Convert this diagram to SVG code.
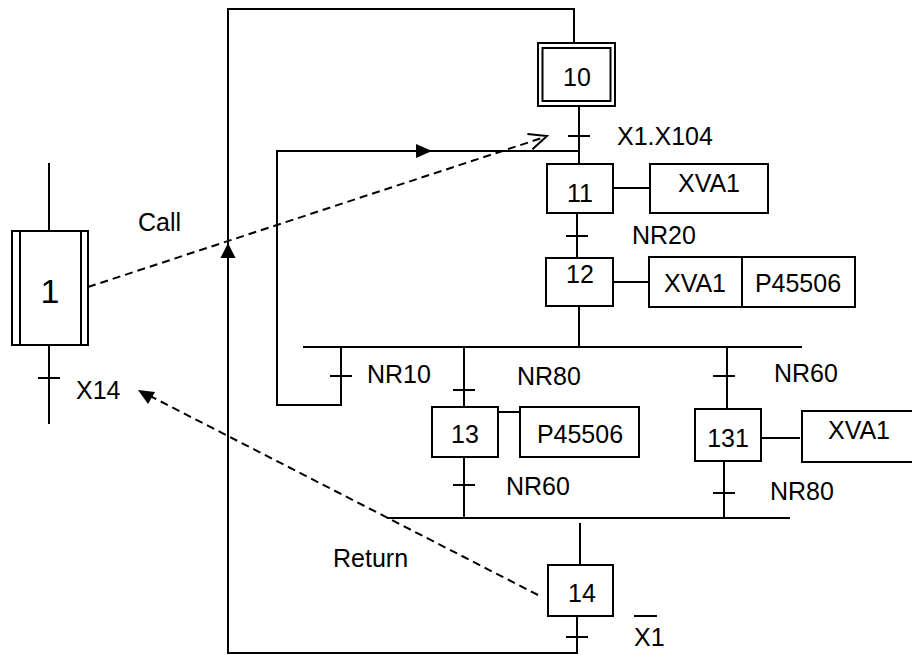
<svg xmlns="http://www.w3.org/2000/svg" width="912" height="655" viewBox="0 0 912 655">
<style>
  .ln{fill:none;stroke:#000;stroke-width:2}
  .box{fill:#fff;stroke:#000;stroke-width:2}
  .dash{fill:none;stroke:#000;stroke-width:2;stroke-dasharray:8 5}
  .t{font-family:"Liberation Sans",Arial,sans-serif;font-size:25px;fill:#000}
  .c{text-anchor:middle}
  .ah{fill:#000;stroke:none}
</style>
<rect width="912" height="655" fill="#fff"/>
<g id="connectors">
  <path class="ln" d="M577,616 V653 H228 V9 H574 V43"/>
  <path class="ln" d="M341,347 V405 H277 V151 H579"/>
  <path class="ln" d="M579,106 V164"/>
  <path class="ln" d="M577,213 V258"/>
  <path class="ln" d="M579,307 V347"/>
  <path class="ln" d="M303,347 H802"/>
  <path class="ln" d="M464,347 V407"/>
  <path class="ln" d="M464,457 V518"/>
  <path class="ln" d="M727,347 V409"/>
  <path class="ln" d="M724,461 V518"/>
  <path class="ln" d="M387,518 H790"/>
  <path class="ln" d="M580,523 V565"/>
  <path class="ln" d="M49,163 V231"/>
  <path class="ln" d="M49,345 V424"/>
  <path class="ln" d="M613,188 H650"/>
  <path class="ln" d="M613,282 H649"/>
  <path class="ln" d="M498,412 H520"/>
  <path class="ln" d="M761,438 H800"/>
  <g id="transitions">
    <path class="ln" d="M568,136 H590"/>
    <path class="ln" d="M566,236 H588"/>
    <path class="ln" d="M330,376 H352"/>
    <path class="ln" d="M453,390 H475"/>
    <path class="ln" d="M453,485 H475"/>
    <path class="ln" d="M713,376 H735"/>
    <path class="ln" d="M713,493 H735"/>
    <path class="ln" d="M566,637 H588"/>
    <path class="ln" d="M38,378 H60"/>
  </g>
  <polygon class="ah" points="228,243 220.5,258 235.5,258"/>
  <polygon class="ah" points="432,151 416,144 416,158"/>
  <path id="call" class="dash" d="M88,287 L545,137"/>
  <path class="ln" d="M527.4,134 L547,136 L532.4,149.2"/>
  <path id="return" class="dash" d="M538,595 L150,396"/>
  <polygon class="ah" points="138,390 155,392 148,404"/>
</g>
<g id="step1">
  <rect class="box" x="12" y="231" width="76" height="114"/>
  <path class="ln" d="M20,231 V345 M81,231 V345"/>
  <text class="t c" x="50" y="303" style="font-size:34px">1</text>
</g>
<g id="step10">
  <rect class="box" x="538" y="43" width="77" height="63"/>
  <rect class="box" x="542.5" y="48" width="68" height="53"/>
  <text class="t c" x="577" y="86">10</text>
</g>
<g id="step11">
  <rect class="box" x="547" y="164" width="66" height="49"/>
  <text class="t c" x="580" y="202">11</text>
</g>
<g id="action11">
  <rect class="box" x="650" y="164" width="118" height="49"/>
  <text class="t c" x="709" y="192">XVA1</text>
</g>
<g id="step12">
  <rect class="box" x="546" y="258" width="67" height="48"/>
  <text class="t c" x="580" y="283">12</text>
</g>
<g id="action12">
  <rect class="box" x="649" y="257" width="206" height="50"/>
  <path class="ln" d="M742,257 V307"/>
  <text class="t c" x="695" y="292">XVA1</text>
  <text class="t c" x="798" y="292">P45506</text>
</g>
<g id="step13">
  <rect class="box" x="432" y="407" width="66" height="50"/>
  <text class="t c" x="465" y="443">13</text>
</g>
<g id="action13">
  <rect class="box" x="520" y="407" width="119" height="50"/>
  <text class="t c" x="580" y="443">P45506</text>
</g>
<g id="step131">
  <rect class="box" x="695" y="409" width="66" height="52"/>
  <text class="t c" x="728" y="447">131</text>
</g>
<g id="action131">
  <rect class="box" x="802" y="411" width="112" height="51"/>
  <text class="t c" x="859" y="439">XVA1</text>
</g>
<g id="step14">
  <rect class="box" x="548" y="565" width="65" height="51"/>
  <text class="t c" x="582" y="602">14</text>
</g>
<g id="labels">
  <text class="t" x="617" y="145">X1.X104</text>
  <text class="t" x="632" y="244">NR20</text>
  <text class="t" x="367" y="383">NR10</text>
  <text class="t" x="517" y="385">NR80</text>
  <text class="t" x="506" y="495">NR60</text>
  <text class="t" x="774" y="382">NR60</text>
  <text class="t" x="770" y="500">NR80</text>
  <text class="t" x="634" y="646">X1</text>
  <path class="ln" d="M634,616 H657"/>
  <text class="t" x="76" y="399">X14</text>
  <text class="t" x="138" y="231">Call</text>
  <text class="t" x="333" y="567">Return</text>
</g>
</svg>
